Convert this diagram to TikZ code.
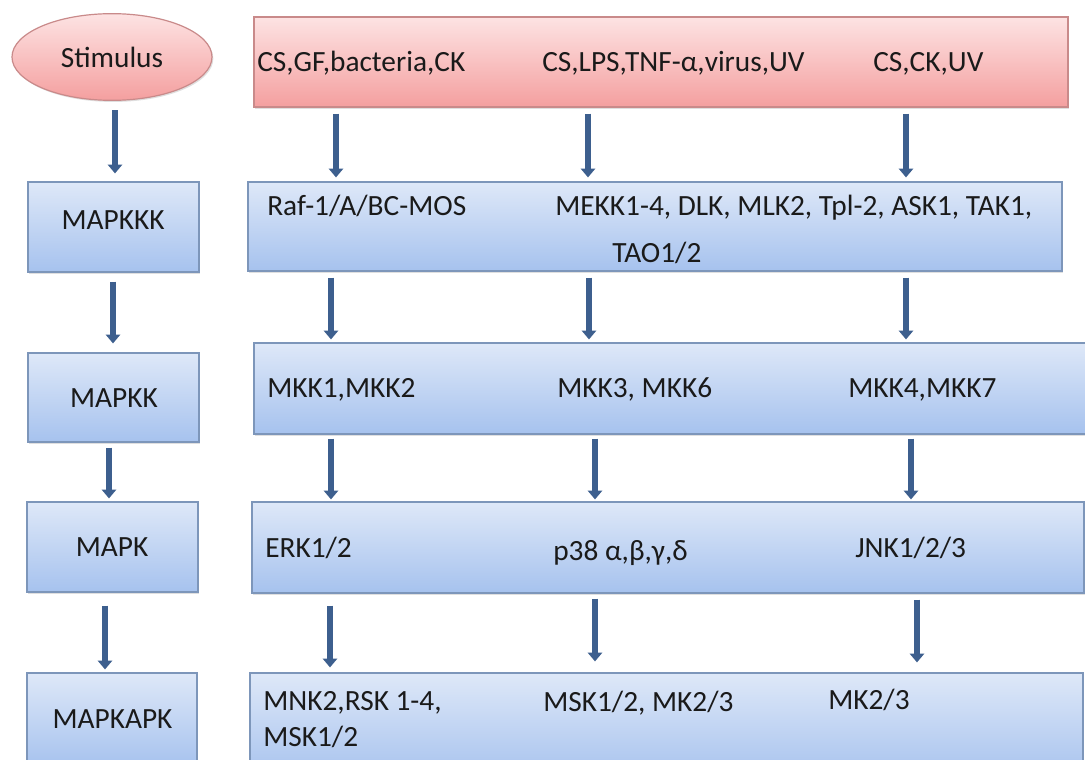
\documentclass[tikz,border=0pt]{standalone}
\usepackage{fontspec}
\setmainfont{Carlito}
\usetikzlibrary{arrows.meta,shapes.geometric,fit,shadows}
\definecolor{bluetop}{HTML}{DEE8F8}
\definecolor{bluebot}{HTML}{A6C2EE}
\definecolor{blueline}{HTML}{7D96BA}
\definecolor{redtop}{HTML}{FDE3E3}
\definecolor{redbot}{HTML}{F49F9F}
\definecolor{redline}{HTML}{C98A8A}
\definecolor{arrowc}{HTML}{3D5F8E}
\definecolor{txt}{HTML}{1A1A1A}
\begin{document}
\begin{tikzpicture}[x=0.75pt,y=-0.75pt,
  box/.style={rectangle, inner sep=0pt, line width=0.9pt,
    drop shadow={opacity=0.25,shadow xshift=1pt,shadow yshift=-1.2pt}},
  bluebox/.style={box, draw=blueline, top color=bluetop, bottom color=bluebot},
  redbox/.style={box, draw=redline, top color=redtop, bottom color=redbot},
  lbl/.style={anchor=base west, inner sep=0pt, font=\fontsize{22}{26}\selectfont, text=txt},
  clbl/.style={lbl, anchor=base},
  arr/.style={draw=arrowc, line width=4.6pt, -{Triangle[width=10.5pt,length=6.5pt]}}
]
\useasboundingbox (0,0) rectangle (1085,760);
\clip (0,0) rectangle (1085,760);
\fill[white] (0,0) rectangle (1085,760);

% left column
\node[ellipse, draw=redline, line width=0.9pt, top color=redtop, bottom color=redbot,
  minimum width=150pt, minimum height=65pt, inner sep=0pt,
  drop shadow={opacity=0.25,shadow xshift=1pt,shadow yshift=-1.2pt},
  font=\fontsize{22}{26}\selectfont, text=txt] (stim) at (112,57) {Stimulus};
\node[bluebox, fit={(28,182) (199,272)}] (L1) {};
\node[bluebox, fit={(28,353) (199,442)}] (L2) {};
\node[bluebox, fit={(27,502) (198,592)}] (L3) {};
\node[bluebox, fit={(27,673) (197,767)}] (L4) {};
\node[clbl] (tL1) at (113,229.5) {MAPKKK};
\node[clbl] (tL2) at (114,407) {MAPKK};
\node[clbl] (tL3) at (112,556) {MAPK};
\node[clbl] (tL4) at (112.5,728.5) {MAPKAPK};

% right column
\node[redbox, fit={(254,17) (1068,107)}] (R0) {};
\node[bluebox, fit={(248,182) (1062,271)}] (R1) {};
\node[bluebox, fit={(254,343) (1095,434)}] (R2) {};
\node[bluebox, fit={(252,502) (1084,593)}] (R3) {};
\node[bluebox, fit={(250,673) (1083,780)}] (R4) {};

\node[lbl] (t01) at (257,71) {CS,GF,bacteria,CK};
\node[lbl] (t02) at (542,71) {CS,LPS,TNF-α,virus,UV};
\node[lbl] (t03) at (873,71) {CS,CK,UV};
\node[lbl] (t11) at (267,215) {Raf-1/A/BC-MOS};
\node[lbl] (t12) at (555,215) {MEKK1-4, DLK, MLK2, Tpl-2, ASK1, TAK1,};
\node[lbl] (t12b) at (612,262) {TAO1/2};
\node[lbl] (t21) at (267,397.5) {MKK1,MKK2};
\node[lbl] (t22) at (557,397.5) {MKK3, MKK6};
\node[lbl] (t23) at (848,397.5) {MKK4,MKK7};
\node[lbl] (t31) at (265,557) {ERK1/2};
\node[lbl] (t32) at (553,560) {p38 α,β,γ,δ};
\node[lbl] (t33) at (855,557.5) {JNK1/2/3};
\node[lbl] (t41) at (263,710) {MNK2,RSK 1-4,};
\node[lbl] (t41b) at (263,746.5) {MSK1/2};
\node[lbl] (t42) at (543,711.5) {MSK1/2, MK2/3};
\node[lbl] (t43) at (828,709.5) {MK2/3};

% arrow columns
\coordinate (a0) at (115,0); \coordinate (a1) at (113,0);
\coordinate (a2) at (109,0); \coordinate (a3) at (105,0);
\coordinate (b0) at (336,0); \coordinate (b1) at (331,0);
\coordinate (b2) at (331,0); \coordinate (b3) at (330,0);
\coordinate (c0) at (588,0); \coordinate (c1) at (589,0);
\coordinate (c2) at (595,0); \coordinate (c3) at (595,0);
\coordinate (d0) at (906,0); \coordinate (d1) at (906,0);
\coordinate (d2) at (911,0); \coordinate (d3) at (917,0);

\draw[arr, shorten <=7pt, shorten >=6pt] (stim.south -| a0) -- (L1.north -| a0);
\draw[arr, shorten <=6.75pt, shorten >=6.75pt] (L1.south -| a1) -- (L2.north -| a1);
\draw[arr, shorten <=3.75pt, shorten >=2.25pt] (L2.south -| a2) -- (L3.north -| a2);
\draw[arr, shorten <=9.75pt, shorten >=2.25pt] (L3.south -| a3) -- (L4.north -| a3);

\draw[arr, shorten <=4.5pt, shorten >=3pt] (R0.south -| b0) -- (R1.north -| b0);
\draw[arr, shorten <=4.5pt, shorten >=2.25pt] (R1.south -| b1) -- (R2.north -| b1);
\draw[arr, shorten <=3pt, shorten >=1.5pt] (R2.south -| b2) -- (R3.north -| b2);
\draw[arr, shorten <=9pt, shorten >=3.75pt] (R3.south -| b3) -- (R4.north -| b3);

\draw[arr, shorten <=4.5pt, shorten >=3pt] (R0.south -| c0) -- (R1.north -| c0);
\draw[arr, shorten <=4.5pt, shorten >=2.25pt] (R1.south -| c1) -- (R2.north -| c1);
\draw[arr, shorten <=3pt, shorten >=1.5pt] (R2.south -| c2) -- (R3.north -| c2);
\draw[arr, shorten <=3.75pt, shorten >=8.25pt] (R3.south -| c3) -- (R4.north -| c3);

\draw[arr, shorten <=4.5pt, shorten >=3pt] (R0.south -| d0) -- (R1.north -| d0);
\draw[arr, shorten <=4.5pt, shorten >=2.25pt] (R1.south -| d1) -- (R2.north -| d1);
\draw[arr, shorten <=3pt, shorten >=1.5pt] (R2.south -| d2) -- (R3.north -| d2);
\draw[arr, shorten <=4.5pt, shorten >=7.5pt] (R3.south -| d3) -- (R4.north -| d3);
\end{tikzpicture}
\end{document}
